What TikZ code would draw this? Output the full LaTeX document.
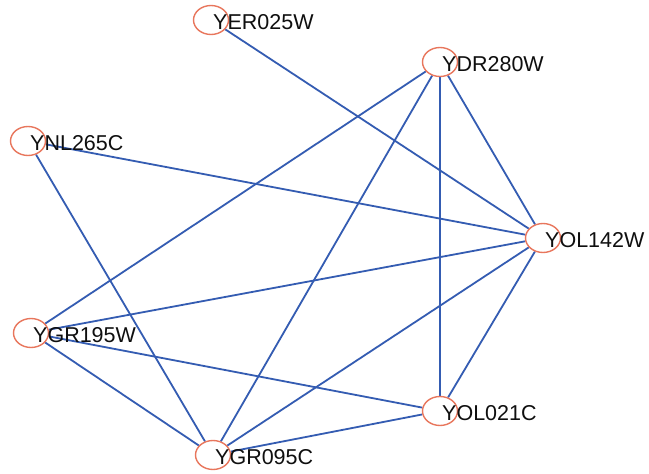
\documentclass[tikz,border=0pt]{standalone}
\usepackage{fontspec}
\setmainfont{Liberation Sans}
\usetikzlibrary{shapes.geometric,backgrounds}
\definecolor{edgeblue}{RGB}{52,92,178}
\definecolor{ringred}{RGB}{232,118,92}
\definecolor{txt}{RGB}{15,15,15}
\begin{document}
\begin{tikzpicture}[x=1bp,y=-1bp,
  vtx/.style={ellipse,draw=ringred,line width=1.4bp,fill=white,minimum width=35bp,minimum height=29bp,inner sep=0pt},
  lbl/.style={anchor=west,inner sep=0pt,text=txt,font=\fontsize{21.5bp}{24bp}\selectfont,xshift=2bp,yshift=-2bp},
  edge/.style={draw=edgeblue,line width=1.8bp}]
\useasboundingbox (0,0) rectangle (649,474);
\node[vtx] (yer) at (211,20) {};
\node[vtx] (ydr) at (440,62) {};
\node[vtx] (ynl) at (28,141) {};
\node[vtx] (yol142) at (543,238) {};
\node[vtx] (ygr195) at (31,333) {};
\node[vtx] (yol021) at (440,411) {};
\node[vtx] (ygr095) at (213,455) {};
\node[lbl] (tyer) at (yer.center) {YER025W};
\node[lbl] (tydr) at (ydr.center) {YDR280W};
\node[lbl] (tynl) at (ynl.center) {YNL265C};
\node[lbl] (tyol142) at (yol142.center) {YOL142W};
\node[lbl] (tygr195) at (ygr195.center) {YGR195W};
\node[lbl] (tyol021) at (yol021.center) {YOL021C};
\node[lbl] (tygr095) at (ygr095.center) {YGR095C};
\begin{scope}[on background layer]
\fill[white] (0,0) rectangle (649,474);
\draw[edge] (yer) -- (yol142);
\draw[edge] (ydr) -- (ygr195);
\draw[edge] (ydr) -- (ygr095);
\draw[edge] (ydr) -- (yol021);
\draw[edge] (ydr) -- (yol142);
\draw[edge] (ynl) -- (yol142);
\draw[edge] (ynl) -- (ygr095);
\draw[edge] (yol142) -- (ygr195);
\draw[edge] (yol142) -- (ygr095);
\draw[edge] (yol142) -- (yol021);
\draw[edge] (ygr195) -- (yol021);
\draw[edge] (ygr195) -- (ygr095);
\draw[edge] (ygr095) -- (yol021);
\end{scope}
\end{tikzpicture}
\end{document}
